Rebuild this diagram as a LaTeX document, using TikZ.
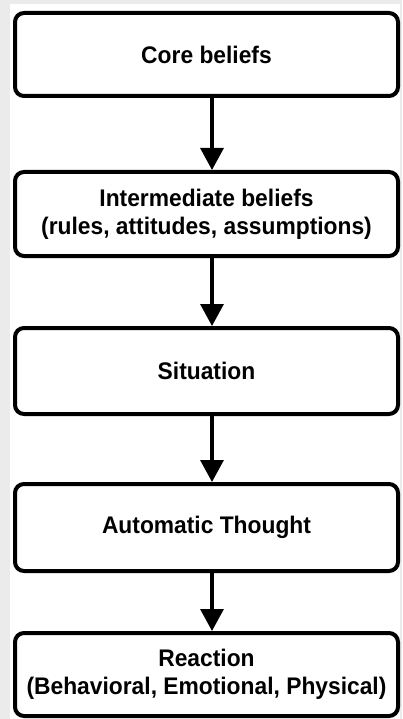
\documentclass[tikz,border=0pt]{standalone}
\usepackage{fontspec}
\setmainfont{Liberation Sans}[FakeStretch=0.95]
\usetikzlibrary{arrows.meta}

\begin{document}
\begin{tikzpicture}[x=1pt,y=1pt]
\tikzset{boite/.style={draw, line width=4pt, rounded corners=9pt, fill=white, minimum width=383pt, align=center, font=\bfseries\fontsize{24}{28}\selectfont}}
\tikzset{fleche/.style={line width=3.2pt, -{Triangle[width=23pt,length=22pt]}}}
\fill[black!8] (0,0) rectangle (402,-719);
\fill[white] (10,-4) rectangle (400,-719);
\useasboundingbox (0,0) rectangle (402,-719);
\node[boite, minimum height=83pt] (B1) at (206.5,-54.5) {Core beliefs};
\node[boite, minimum height=84pt] (B2) at (206.5,-214) {Intermediate beliefs\\(rules, attitudes, assumptions)};
\node[boite, minimum height=86pt] (B3) at (206.5,-371) {Situation};
\node[boite, minimum height=87pt] (B4) at (206.5,-527.5) {Automatic Thought};
\node[boite, minimum height=83pt] (B5) at (206.5,-674.5) {Reaction\\(Behavioral, Emotional, Physical)};
\draw[fleche] ([xshift=5.5pt]B1.south) -- ([xshift=5.5pt]B2.north);
\draw[fleche] ([xshift=5.5pt]B2.south) -- ([xshift=5.5pt]B3.north);
\draw[fleche] ([xshift=5.5pt]B3.south) -- ([xshift=5.5pt]B4.north);
\draw[fleche] ([xshift=5.5pt]B4.south) -- ([xshift=5.5pt]B5.north);
\end{tikzpicture}
\end{document}
